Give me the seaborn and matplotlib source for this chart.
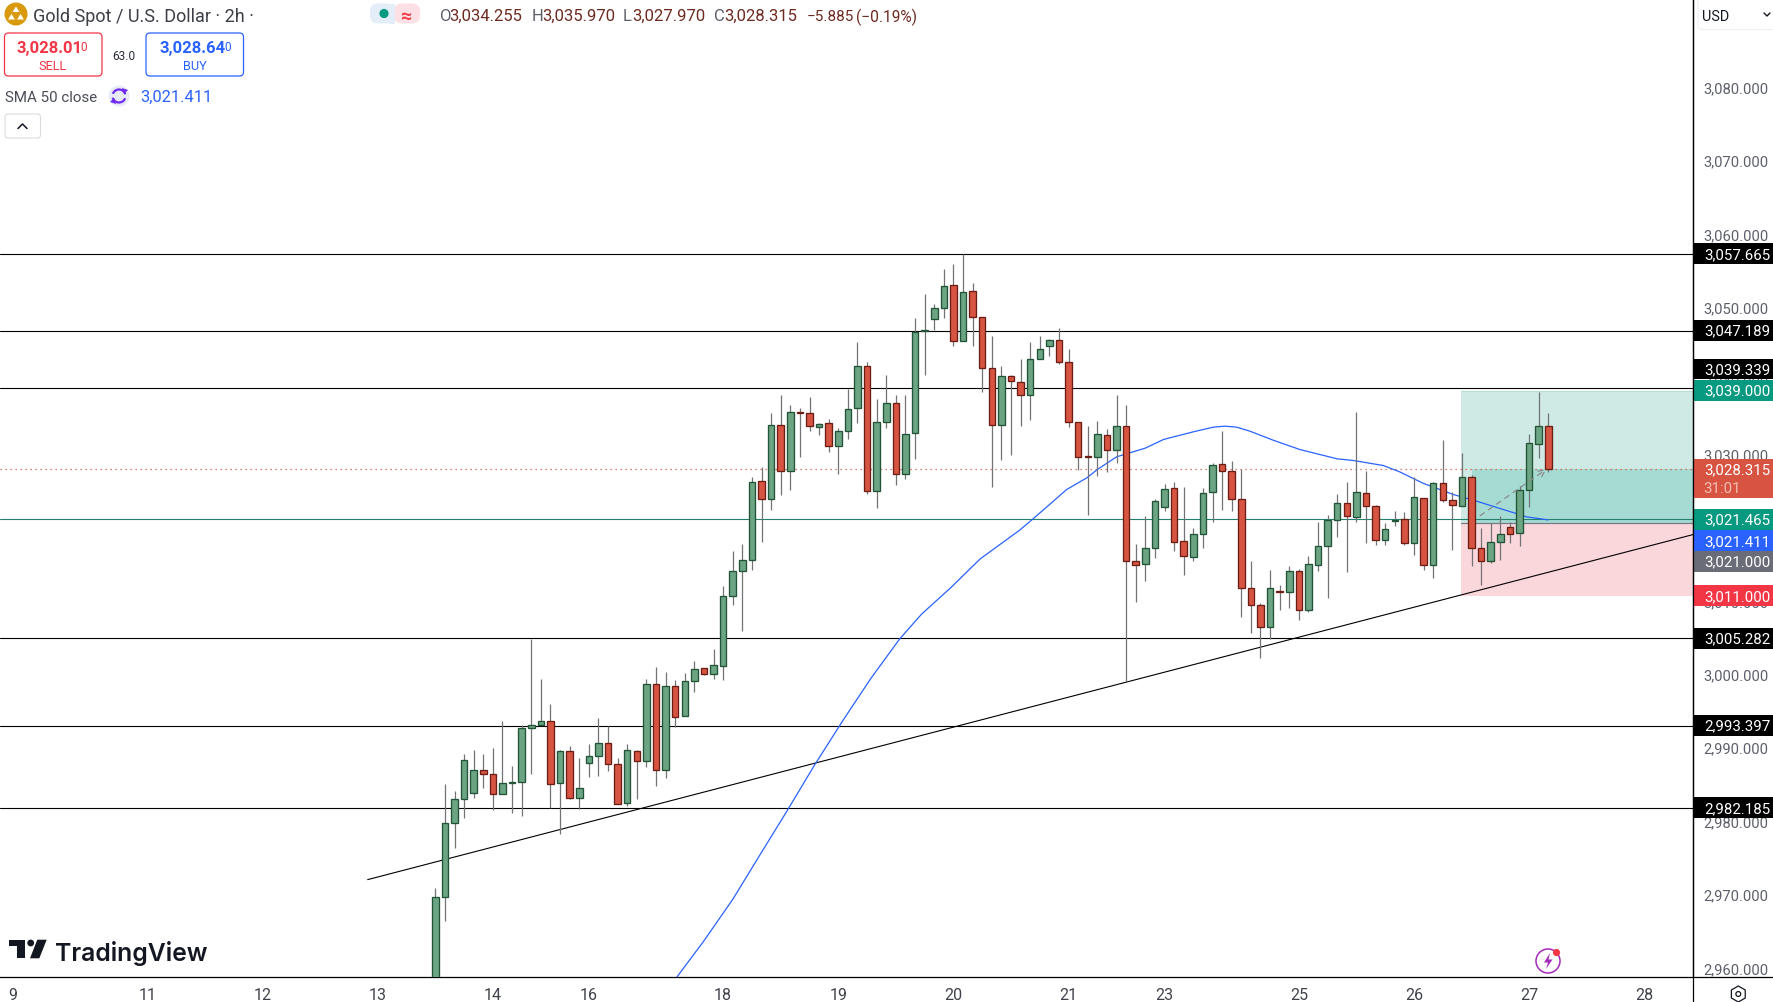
import numpy as np
import pandas as pd
import seaborn as sns
import matplotlib.pyplot as plt
import matplotlib.transforms as mtrans
from matplotlib.lines import Line2D
from matplotlib.patches import Arc, Circle, FancyBboxPatch, Polygon, Rectangle

opens = [2953.0, 2970.07, 2980.15, 2983.42, 2984.24, 2987.37, 2986.83, 2984.10, 2985.60, 2985.74,
         2993.09, 2993.50, 2994.05, 2985.60, 2989.96, 2983.56, 2988.32, 2989.28, 2991.05, 2988.19,
         2982.87, 2989.96, 2988.60, 2999.09, 2987.37, 2998.81, 2994.73, 2999.49, 3001.27, 3000.45,
         3001.54, 3011.02, 3014.47, 3015.97, 3026.73, 3024.28, 3034.36, 3028.10, 3036.13, 3036.00,
         3034.09, 3034.63, 3031.50, 3033.54, 3036.68, 3042.40, 3025.37, 3034.77, 3037.36, 3027.69,
         3033.27, 3047.12, 3048.80, 3050.30, 3053.43, 3045.81, 3052.62, 3049.07, 3042.13, 3034.36,
         3041.04, 3040.22, 3038.45, 3043.35, 3045.12, 3045.94, 3042.94, 3034.77, 3030.05, 3030.00,
         3033.00, 3030.96, 3034.23, 3015.84, 3015.43, 3017.61, 3023.19, 3025.78, 3018.56, 3016.38,
         3019.52, 3025.24, 3029.05, 3028.10, 3024.28, 3012.16, 3009.84, 3006.85, 3011.75, 3011.61,
         3014.47, 3009.16, 3015.29, 3017.88, 3021.42, 3023.74, 3021.83, 3025.10, 3023.33, 3018.70,
         3021.29, 3021.56, 3018.29, 3024.42, 3015.29, 3026.46, 3024.15, 3023.33, 3027.28, 3017.61,
         3015.84, 3018.43, 3020.47, 3019.65, 3025.51, 3031.77, 3034.255]
highs = [2971.29, 2985.37, 2984.51, 2989.46, 2990.09, 2989.46, 2990.37, 2994.05, 2987.82, 2993.41,
         3005.13, 2999.77, 2996.27, 2990.09, 2990.55, 2988.91, 2990.82, 2994.36, 2993.27, 2988.91,
         2990.91, 2990.09, 2999.77, 3001.31, 3000.63, 2999.54, 3000.49, 3002.13, 3001.27, 3003.76,
         3012.34, 3017.24, 3018.06, 3027.28, 3028.64, 3036.04, 3038.49, 3037.13, 3036.59, 3038.18,
         3034.63, 3035.18, 3033.95, 3039.18, 3045.58, 3042.94, 3037.95, 3041.22, 3038.36, 3038.49,
         3048.94, 3052.12, 3050.85, 3055.66, 3056.34, 3057.66, 3053.62, 3049.07, 3046.40, 3042.44,
         3041.22, 3043.40, 3045.58, 3046.40, 3046.12, 3047.58, 3044.76, 3034.77, 3034.27, 3034.95,
         3033.73, 3038.36, 3037.00, 3018.06, 3021.88, 3024.28, 3026.24, 3026.51, 3025.83, 3020.24,
         3025.78, 3029.10, 3033.46, 3029.37, 3028.37, 3015.75, 3010.12, 3014.61, 3012.48, 3015.07,
         3014.75, 3016.52, 3021.15, 3022.01, 3024.96, 3026.64, 3036.14, 3028.10, 3023.47, 3020.92,
         3022.56, 3022.42, 3027.28, 3024.42, 3026.60, 3032.23, 3025.24, 3030.55, 3027.55, 3020.24,
         3021.01, 3021.97, 3021.15, 3026.01, 3033.05, 3038.77, 3035.97]
lows = [2950.0, 2966.75, 2976.70, 2980.74, 2983.51, 2984.87, 2981.88, 2984.10, 2981.47, 2981.06,
        2986.73, 2993.50, 2982.15, 2978.61, 2983.37, 2982.01, 2986.37, 2986.51, 2987.19, 2982.74,
        2982.42, 2983.37, 2987.73, 2985.14, 2986.23, 2993.18, 2994.73, 2997.95, 3000.27, 2999.68,
        2999.59, 3009.80, 3006.25, 3014.65, 3018.38, 3022.74, 3024.87, 3025.46, 3029.96, 3033.50,
        3032.95, 3030.64, 3027.64, 3032.41, 3034.59, 3024.92, 3023.01, 3033.91, 3026.10, 3026.96,
        3029.69, 3041.13, 3047.30, 3048.85, 3045.17, 3045.81, 3045.17, 3038.90, 3025.87, 3029.55,
        3030.23, 3034.18, 3035.00, 3043.35, 3043.72, 3042.63, 3034.04, 3028.23, 3022.06, 3027.37,
        3027.91, 3029.14, 2999.40, 3010.21, 3013.07, 3016.20, 3022.60, 3017.15, 3013.88, 3015.79,
        3017.56, 3021.10, 3022.74, 3022.60, 3008.16, 3005.98, 3002.58, 3005.21, 3009.12, 3009.39,
        3007.75, 3008.89, 3014.43, 3010.75, 3019.06, 3014.29, 3021.10, 3018.24, 3017.97, 3017.97,
        3020.56, 3017.97, 3016.61, 3014.57, 3013.48, 3023.83, 3017.29, 3023.33, 3015.11, 3012.52,
        3015.52, 3015.93, 3018.24, 3017.83, 3023.15, 3029.82, 3027.97]
closes = [2970.07, 2980.15, 2983.42, 2988.73, 2987.37, 2986.83, 2984.10, 2985.60, 2985.74, 2993.09,
          2993.46, 2994.05, 2985.46, 2989.96, 2983.56, 2984.92, 2989.28, 2991.05, 2988.19, 2982.74,
          2990.09, 2988.60, 2999.09, 2987.37, 2998.81, 2994.59, 2999.49, 3001.13, 3000.45, 3001.67,
          3011.11, 3014.47, 3015.97, 3026.60, 3024.28, 3034.36, 3028.10, 3036.13, 3036.00, 3034.23,
          3034.50, 3031.50, 3033.54, 3036.54, 3042.40, 3025.37, 3034.77, 3037.36, 3027.69, 3033.14,
          3047.03, 3047.26, 3050.30, 3053.30, 3045.81, 3052.48, 3049.07, 3042.13, 3034.36, 3041.04,
          3040.36, 3038.45, 3043.35, 3044.72, 3045.94, 3042.94, 3034.77, 3030.00, 3029.96, 3033.14,
          3030.96, 3034.23, 3015.84, 3015.29, 3017.61, 3024.01, 3025.65, 3018.43, 3016.52, 3019.52,
          3025.10, 3028.92, 3028.10, 3024.28, 3012.16, 3009.84, 3006.85, 3012.16, 3011.61, 3014.47,
          3009.16, 3015.43, 3017.88, 3021.42, 3023.74, 3021.97, 3025.24, 3023.33, 3018.70, 3020.20,
          3021.42, 3018.29, 3024.56, 3015.29, 3026.46, 3024.15, 3023.47, 3027.28, 3017.61, 3015.84,
          3018.43, 3019.52, 3019.52, 3025.51, 3031.91, 3034.23, 3028.315]

sma_idx = [25.2, 27.9, 31.0, 33.8, 36.6, 39.5, 42.5, 45.4, 48.4, 50.7, 53.7, 56.8, 60.9, 62.3, 64.1,
           65.8, 67.9, 69.0, 71.0, 74.0, 75.9, 79.0, 81.1, 82.3, 83.5, 84.9, 87.3, 90.1, 94.0, 95.7,
           98.8, 100.5, 103.0, 106.1, 108.5, 112.7, 113.7, 116.0]
sma_vals = [2959.17, 2963.89, 2969.71, 2975.70, 2981.64, 2987.96, 2994.12, 2999.83, 3005.20, 3008.60,
            3012.15, 3016.11, 3020.01, 3021.56, 3023.60, 3025.55, 3027.14, 3028.28, 3030.00, 3031.19,
            3032.37, 3033.41, 3034.05, 3034.18, 3034.05, 3033.50, 3032.28, 3031.00, 3029.73, 3029.50,
            3028.82, 3027.96, 3026.37, 3024.87, 3023.97, 3022.26, 3021.83, 3021.41]

trend_idx = [-7.05, 131.11]
trend_vals = [2972.4, 3019.42]

levels = [3057.665, 3047.189, 3039.339, 3005.282, 2993.397, 2982.185]
last_price = 3028.315
teal_level = 3021.465
target, entry, stop = 3039.0, 3021.0, 3011.0

date_ticks = [-44, -30, -18, -6, 6, 16, 30, 42, 54, 66, 76, 90, 102, 114, 126]
date_labels = ['9', '11', '12', '13', '14', '16', '18', '19', '20', '21', '23', '25', '26', '27', '28']
price_ticks = list(range(2960, 3090, 10))

# right hand tags: text, height it sits at, colour (TV pushes some away from their price)
tag_text = ['3,057.665', '3,047.189', '3,039.339', '3,039.000', '3,021.465', '3,021.411', '3,021.000',
            '3,011.000', '3,005.282', '2,993.397', '2,982.185']
tag_y = [3057.665, 3047.189, 3041.97, 3039.1, 3021.465, 3018.56, 3015.72, 3011.05, 3005.282, 2993.397,
         2982.185]
tag_col = ['black', 'black', 'black', '#089981', '#089981', '#2962FF', '#6A6D78', '#F23645', 'black',
           'black', 'black']

GREEN, GREEN_EDGE = '#6BA583', '#225437'
RED, RED_EDGE = '#D75442', '#6D1E14'
WICK = '#737375'

sns.set_theme(style='white')
plt.rcParams['font.family'] = ['Roboto', 'DejaVu Sans']

df = pd.DataFrame({'open': opens, 'high': highs, 'low': lows, 'close': closes})
df['idx'] = np.arange(len(df))
df['up'] = df['close'] >= df['open']

W, H = 1774, 1003
fig = plt.figure(figsize=(W / 100, H / 100), dpi=100, facecolor='white')
ax = fig.add_axes([0, (H - 977.8) / H, 1693.3 / W, 977.8 / H])

# position tool
ax.add_patch(Rectangle((106.9, entry), 30, target - entry, color='#CFEAE4', lw=0, zorder=1))
ax.add_patch(Rectangle((106.9, stop), 30, entry - stop, color='#FAD7DB', lw=0, zorder=1))
ax.add_patch(Rectangle((108, entry), 30, last_price - entry, color='#A5DBD2', lw=0, zorder=1.1))
ax.plot([106.9, 137], [entry, entry], color='#787B86', lw=0.9, zorder=1.2)
ax.plot([106.9, 137], [target, target], color='#B5DFD7', lw=0.9, zorder=1.2)

for lv in levels:
    ax.axhline(lv, color='black', lw=0.8, zorder=2)
ax.axhline(teal_level, color='#22806C', lw=0.8, zorder=2)
ax.axhline(last_price, color='#D75442', lw=0.9, ls=(0, (1, 3)), zorder=2)

sns.lineplot(x=trend_idx, y=trend_vals, ax=ax, color='black', lw=0.8, zorder=2.2)
sns.lineplot(x=sma_idx, y=sma_vals, ax=ax, color='#2962FF', lw=0.9, zorder=2.3)

ax.vlines(df['idx'], df['low'], df['high'], color=WICK, lw=0.9, zorder=3)
ax.bar(df['idx'], (df['close'] - df['open']).abs(), bottom=df[['open', 'close']].min(axis=1), width=0.68,
       color=[GREEN if u else RED for u in df['up']], edgecolor=[GREEN_EDGE if u else RED_EDGE for u in df['up']],
       linewidth=0.95, zorder=3.1)

ax.annotate('', xy=(115.8, last_price), xytext=(108.9, 3022.0), zorder=3.3,
            arrowprops=dict(arrowstyle='->', ls=(0, (4, 4)), color='#8A8A8A', lw=0.9, shrinkA=0, shrinkB=0))

ax.set_xlim(-45.37, 131.11)
ax.set_ylim(2959.16, 3092.38)
ax.set_xlabel('')
ax.set_ylabel('')
ax.set_xticks(date_ticks, date_labels)
ax.set_yticks(price_ticks, [f'{p:,.3f}' for p in price_ticks])
ax.yaxis.tick_right()
ax.tick_params(axis='x', length=0, pad=7, labelsize=11.5, labelcolor='#3F424A')
ax.tick_params(axis='y', length=0, pad=7.5, labelsize=10.6, labelcolor='#5D606B')
lift = mtrans.ScaledTranslation(0, 3.2 / 100, fig.dpi_scale_trans)
for lab in ax.get_yticklabels():
    lab.set_transform(lab.get_transform() + lift)
sns.despine(ax=ax, left=True, top=True, right=False, bottom=False)
for side in ['right', 'bottom']:
    ax.spines[side].set_color('black')
    ax.spines[side].set_linewidth(0.9)

# price tags
trans = ax.get_yaxis_transform()
tag_w = W / 1693.3 - 1
tag_h = 2.86
tag_cx = 1737 / 1693.3
for txt, y, col in zip(tag_text, tag_y, tag_col):
    ax.add_patch(Rectangle((1, y - tag_h / 2), tag_w, tag_h, transform=trans, color=col, lw=0, clip_on=False,
                           zorder=6))
    ax.text(tag_cx, y + 0.2, txt, transform=trans, color='white', fontsize=10.8, ha='center',
            va='center_baseline', zorder=7, clip_on=False)
ax.add_patch(Rectangle((1, last_price - 3.90), tag_w, 5.3, transform=trans, color='#D75442', lw=0, clip_on=False,
                       zorder=6))
ax.text(tag_cx, last_price + 0.2, '3,028.315', transform=trans, color='white', fontsize=10.8, ha='center',
        va='center_baseline', zorder=7)
ax.text(1722 / 1693.3, last_price - 2.3, '31:01', transform=trans, color='#F6BDB3', fontsize=10.8, ha='center',
        va='center_baseline', zorder=7)

# chart furniture, drawn in pixels on top
ui = fig.add_axes([0, 0, 1, 1], zorder=10)
ui.set_xlim(0, W)
ui.set_ylim(H, 0)
ui.axis('off')
ui.patch.set_alpha(0)

fig.add_artist(Line2D([1693.3 / W, 1693.3 / W], [0, 1], color='black', lw=0.9))
fig.add_artist(Line2D([1693.3 / W, 1], [(H - 977.8) / H] * 2, color='black', lw=0.9))

# header
ui.add_patch(Circle((16, 15), 11.5, color='#D99A0E', lw=0))
for cx, cy in [(16, 10.5), (11.5, 18), (20.5, 18)]:
    ui.add_patch(Polygon([(cx - 3.5, cy + 2.5), (cx + 3.5, cy + 2.5), (cx, cy - 3)], color='white', lw=0))
ui.text(33, 15, 'Gold Spot / U.S. Dollar \u00b7 2h \u00b7', fontsize=13, color='#3C3F47', va='center_baseline')

ui.add_patch(FancyBboxPatch((370, 4.5), 26, 20, boxstyle='round,pad=0,rounding_size=8', color='#E3EEF8', lw=0))
ui.add_patch(FancyBboxPatch((394, 4.5), 26, 20, boxstyle='round,pad=0,rounding_size=8', color='#FCE0E4', lw=0))
ui.add_patch(Rectangle((390, 4.5), 5, 20, color='#E3EEF8', lw=0))
ui.add_patch(Circle((384, 14.5), 4.6, color='#089981', lw=0))
ui.text(407, 15, '\u2248', fontsize=14, color='#F23645', ha='center', va='center_baseline', fontweight='bold')

ohlc_x = [440, 449, 532, 542, 623, 632.5, 714, 724, 807, 856.5]
ohlc_txt = ['O', '3,034.255', 'H', '3,035.970', 'L', '3,027.970', 'C', '3,028.315', '\u22125.885', '(\u22120.19%)']
ohlc_size = [12, 12, 12, 12, 12, 12, 12, 12, 11, 11.2]
for x, t, fs in zip(ohlc_x, ohlc_txt, ohlc_size):
    col = '#5D606B' if t in 'OHLC' else '#6E2A21'
    ui.text(x, 15, t, fontsize=fs, color=col, va='center_baseline')

ui.add_patch(FancyBboxPatch((4.5, 34), 97.5, 43, boxstyle='round,pad=0,rounding_size=4', fc='white', ec='#F23645',
                            lw=0.9))
ui.text(17, 47, '3,028.01', fontsize=12, color='#F23645', fontweight='bold', va='center_baseline')
ui.text(80.5, 45.5, '0', fontsize=8.6, color='#F23645', va='center_baseline')
ui.text(53, 65, 'SELL', fontsize=9.2, color='#F23645', ha='center', va='center_baseline')
ui.text(124, 54.5, '63.0', fontsize=8.6, color='#2A2E39', ha='center', va='center_baseline')
ui.add_patch(FancyBboxPatch((146, 34), 97.5, 43, boxstyle='round,pad=0,rounding_size=4', fc='white', ec='#2962FF',
                            lw=0.9))
ui.text(160, 47, '3,028.64', fontsize=12, color='#2962FF', fontweight='bold', va='center_baseline')
ui.text(224, 45.5, '0', fontsize=8.6, color='#2962FF', va='center_baseline')
ui.text(195, 65, 'BUY', fontsize=9.2, color='#2962FF', ha='center', va='center_baseline')

ui.text(5, 96, 'SMA 50 close', fontsize=10.9, color='#4A4D57', va='center_baseline')
ui.add_patch(Circle((119, 97), 10.5, color='#E7EBF6', lw=0))
ui.add_patch(Arc((119, 97), 13, 13, theta1=20, theta2=165, color='#6F2BF0', lw=1.6))
ui.add_patch(Arc((119, 97), 13, 13, theta1=200, theta2=345, color='#6F2BF0', lw=1.6))
ui.add_patch(Polygon([(122, 89), (128, 91), (124, 95)], color='#6F2BF0', lw=0))
ui.add_patch(Polygon([(116, 105), (110, 103), (114, 99)], color='#6F2BF0', lw=0))
ui.text(140, 96, '3,021.411', fontsize=11.9, color='#2962FF', va='center_baseline')

ui.add_patch(FancyBboxPatch((5, 115), 35.5, 24, boxstyle='round,pad=0,rounding_size=3', fc='white', ec='#DADCE0',
                            lw=0.8))
ui.plot([18, 22.5, 27], [129.5, 125, 129.5], color='#131722', lw=1.1)

# usd selector
ui.add_patch(FancyBboxPatch((1698, -10), 90, 40.5, boxstyle='round,pad=0,rounding_size=5', fc='white', ec='#EDEEF1',
                            lw=0.8))
ui.text(1702.5, 15, 'USD', fontsize=10.4, color='#131722', va='center_baseline')
ui.plot([1764, 1767, 1770], [14, 17, 14], color='#131722', lw=1.0)

# logo
ui.add_patch(Polygon([(9, 940.7), (25.3, 940.7), (25.3, 959.3), (17.3, 959.3), (17.3, 947.3), (9, 947.3)],
                     color='#131722', lw=0))
ui.add_patch(Circle((30.7, 944), 3.4, color='#131722', lw=0))
ui.add_patch(Polygon([(37.3, 940.7), (46.7, 940.7), (39.3, 959.3), (30, 959.3)], color='#131722', lw=0))
ui.text(55.5, 951, 'TradingView', fontsize=17.8, family='Inter', fontweight='semibold', color='#131722',
        va='center_baseline')

# bolt button and settings hexagon
ui.add_patch(Circle((1548, 962), 12, fc='white', ec='#A32BB8', lw=1.1))
ui.add_patch(Polygon([(1550, 954), (1544, 963.5), (1548, 963.5), (1546, 970), (1552.5, 960.5), (1548.5, 960.5)],
                     color='#A32BB8', lw=0))
ui.add_patch(Circle((1556.5, 953.5), 3.6, color='#F23645', lw=0))
hex_ang = np.deg2rad(np.arange(0, 360, 60) + 30)
ui.add_patch(Polygon(np.column_stack([1738.3 + 8 * np.cos(hex_ang), 995 + 8 * np.sin(hex_ang)]), fc='white',
                     ec='#131722', lw=0.9))
ui.add_patch(Circle((1738.3, 995), 2.4, fc='white', ec='#131722', lw=0.9))

fig.savefig('out.png', dpi=100)
